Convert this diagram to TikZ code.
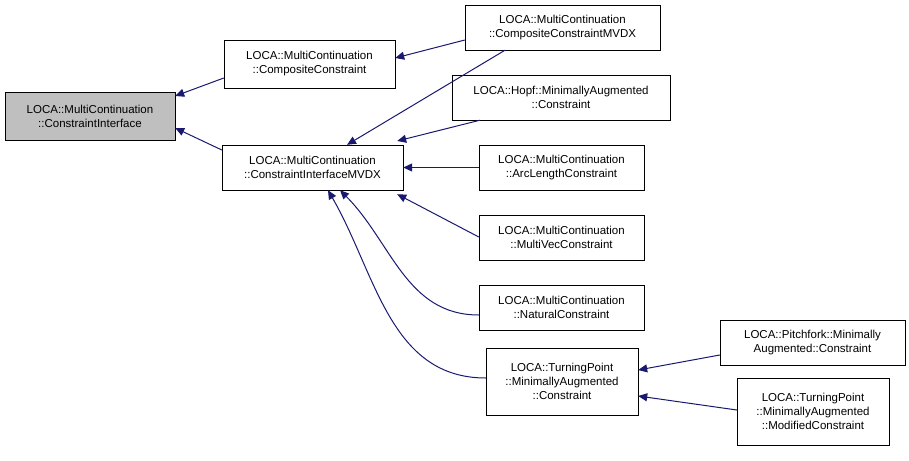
\documentclass[tikz,border=0pt]{standalone}
\usepackage{fontspec}
\setmainfont{Liberation Sans}
\usetikzlibrary{arrows.meta}
\tikzset{x=1pt, y=-1pt,
  cls/.style={draw=black, fill=white, align=center, inner sep=0pt,
      font=\fontsize{11.5}{14}\selectfont},
  inherit/.style={draw=navy, line width=1pt, {Triangle[length=9pt,width=8pt]}-}
}
\definecolor{navy}{RGB}{25,25,112}
\def\Cls#1#2#3#4#5#6{%
  \node[cls, minimum width=#4-#2, minimum height=#5-#3, #6] (#1)
     at ({(#2+#4)/2},{(#3+#5)/2})}
\begin{document}
\begin{tikzpicture}
\useasboundingbox (0,0) rectangle (909,460);
\Cls{ci}{5}{92}{175}{140}{fill=black!25} {LOCA::MultiContinuation\\::ConstraintInterface};
\Cls{cc}{224}{40}{395}{88}{} {LOCA::MultiContinuation\\::CompositeConstraint};
\Cls{cimvdx}{222}{145}{403}{190}{} {LOCA::MultiContinuation\\::ConstraintInterfaceMVDX};
\Cls{ccmvdx}{465}{5}{660}{50}{} {LOCA::MultiContinuation\\::CompositeConstraintMVDX};
\Cls{hopf}{452}{75}{670}{120}{} {LOCA::Hopf::MinimallyAugmented\\::Constraint};
\Cls{arc}{479}{145}{644}{190}{} {LOCA::MultiContinuation\\::ArcLengthConstraint};
\Cls{mvec}{479}{215}{644}{260}{} {LOCA::MultiContinuation\\::MultiVecConstraint};
\Cls{nat}{479}{285}{644}{330}{} {LOCA::MultiContinuation\\::NaturalConstraint};
\Cls{tp}{486}{348}{638}{415}{} {LOCA::TurningPoint\\::MinimallyAugmented\\::Constraint};
\Cls{pf}{720}{320}{905}{365}{} {LOCA::Pitchfork::Minimally\\Augmented::Constraint};
\Cls{tpmod}{737}{378}{889}{445}{} {LOCA::TurningPoint\\::MinimallyAugmented\\::ModifiedConstraint};
% inheritance
\draw[inherit] (ci.east |- 0,96) -- (cc.west |- 0,78);
\draw[inherit] (ci.east |- 0,128) -- (cimvdx.west |- 0,150);
\draw[inherit] (cc.east |- 0,58) -- (ccmvdx.west |- 0,40);
\draw[inherit] (cimvdx.north -| 347,0) -- (ccmvdx.south -| 505,0);
\draw[inherit] (cimvdx.north east |- 0,145) ++(-6,-4) -- (hopf.south -| 480,0);
\draw[inherit] (cimvdx.east) -- (arc.west);
\draw[inherit] (cimvdx.south east) ++(-6,4) -- (mvec.west |- 0,237);
\draw[inherit] (cimvdx.south -| 340,0) to[out=-45,in=180] (nat.west |- 0,315);
\draw[inherit] (cimvdx.south -| 328,0) to[out=-60,in=180] (tp.west |- 0,378);
\draw[inherit] (tp.east |- 0,370) -- (pf.west |- 0,355);
\draw[inherit] (tp.east |- 0,396) -- (tpmod.west |- 0,410);
\end{tikzpicture}
\end{document}
